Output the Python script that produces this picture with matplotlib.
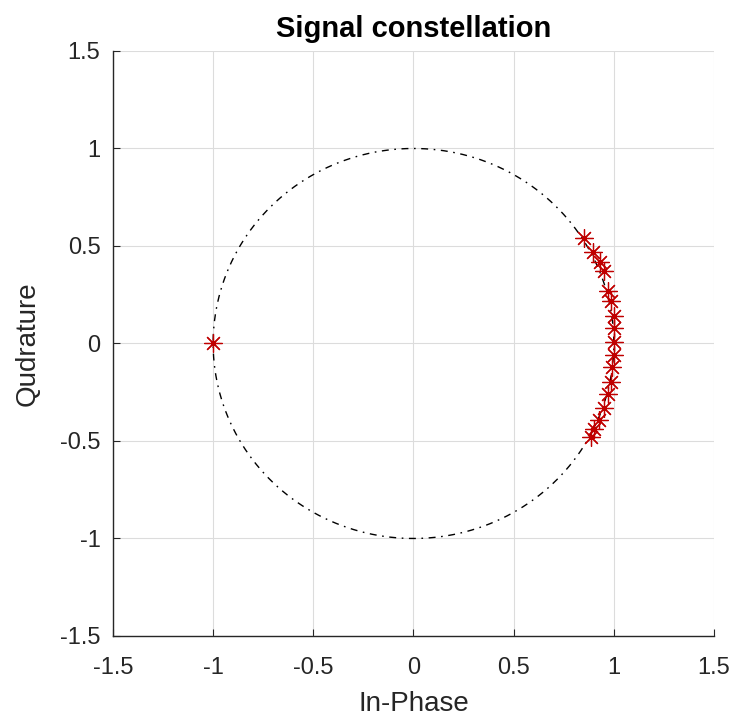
import numpy as np
import matplotlib
matplotlib.use("Agg")
import matplotlib.pyplot as plt

plt.rcParams['font.family'] = ['Liberation Sans', 'DejaVu Sans']

# Received symbols (In-Phase, Quadrature)
I_vals = [0.85, 0.895, 0.93, 0.95, 0.97, 0.985, 1.0, 1.0, 1.0, 1.0, 0.99, 0.985, 0.97, 0.95, 0.925, 0.90, 0.885, -1.0]
Q_vals = [0.54, 0.47, 0.42, 0.37, 0.27, 0.22, 0.14, 0.08, 0.01, -0.06, -0.12, -0.20, -0.26, -0.33, -0.39, -0.44, -0.48, 0.0]

ticks = [-1.5, -1, -0.5, 0, 0.5, 1, 1.5]
tick_labels = ['-1.5', '-1', '-0.5', '0', '0.5', '1', '1.5']

fig = plt.figure(figsize=(7.35, 7.2), dpi=100)
ax = fig.add_axes([0.1537, 0.1167, 0.8177, 0.8125])

theta = np.linspace(0, 2 * np.pi, 400)
ax.plot(np.cos(theta), np.sin(theta), color='black', linewidth=1.0,
        dashes=(5, 4, 1.2, 4), zorder=2)
ax.plot(I_vals, Q_vals, linestyle='none', marker=(8, 2, 0), markersize=13,
        markeredgecolor='#c00000', markeredgewidth=0.9, zorder=3)

ax.set_xlim(-1.5, 1.5)
ax.set_ylim(-1.5, 1.5)
ax.set_xticks(ticks)
ax.set_xticklabels(tick_labels)
ax.set_yticks(ticks)
ax.set_yticklabels(tick_labels)
ax.grid(True, color='#dcdcdc', linewidth=0.8)
ax.set_axisbelow(True)
for s in ['top', 'right']:
    ax.spines[s].set_visible(False)
for s in ['left', 'bottom']:
    ax.spines[s].set_color('#262626')
    ax.spines[s].set_linewidth(1.0)
ax.tick_params(direction='in', length=5, labelsize=17, colors='#262626')
ax.tick_params(axis='x', pad=15)
ax.tick_params(axis='y', pad=9)

ax.set_title('Signal constellation', fontsize=21, fontweight='bold', pad=10)
ax.set_xlabel('In-Phase', fontsize=20, color='#262626', labelpad=9)
ax.set_ylabel('Qudrature', fontsize=20, color='#262626', labelpad=14)

fig.savefig('out.png', dpi=100)
